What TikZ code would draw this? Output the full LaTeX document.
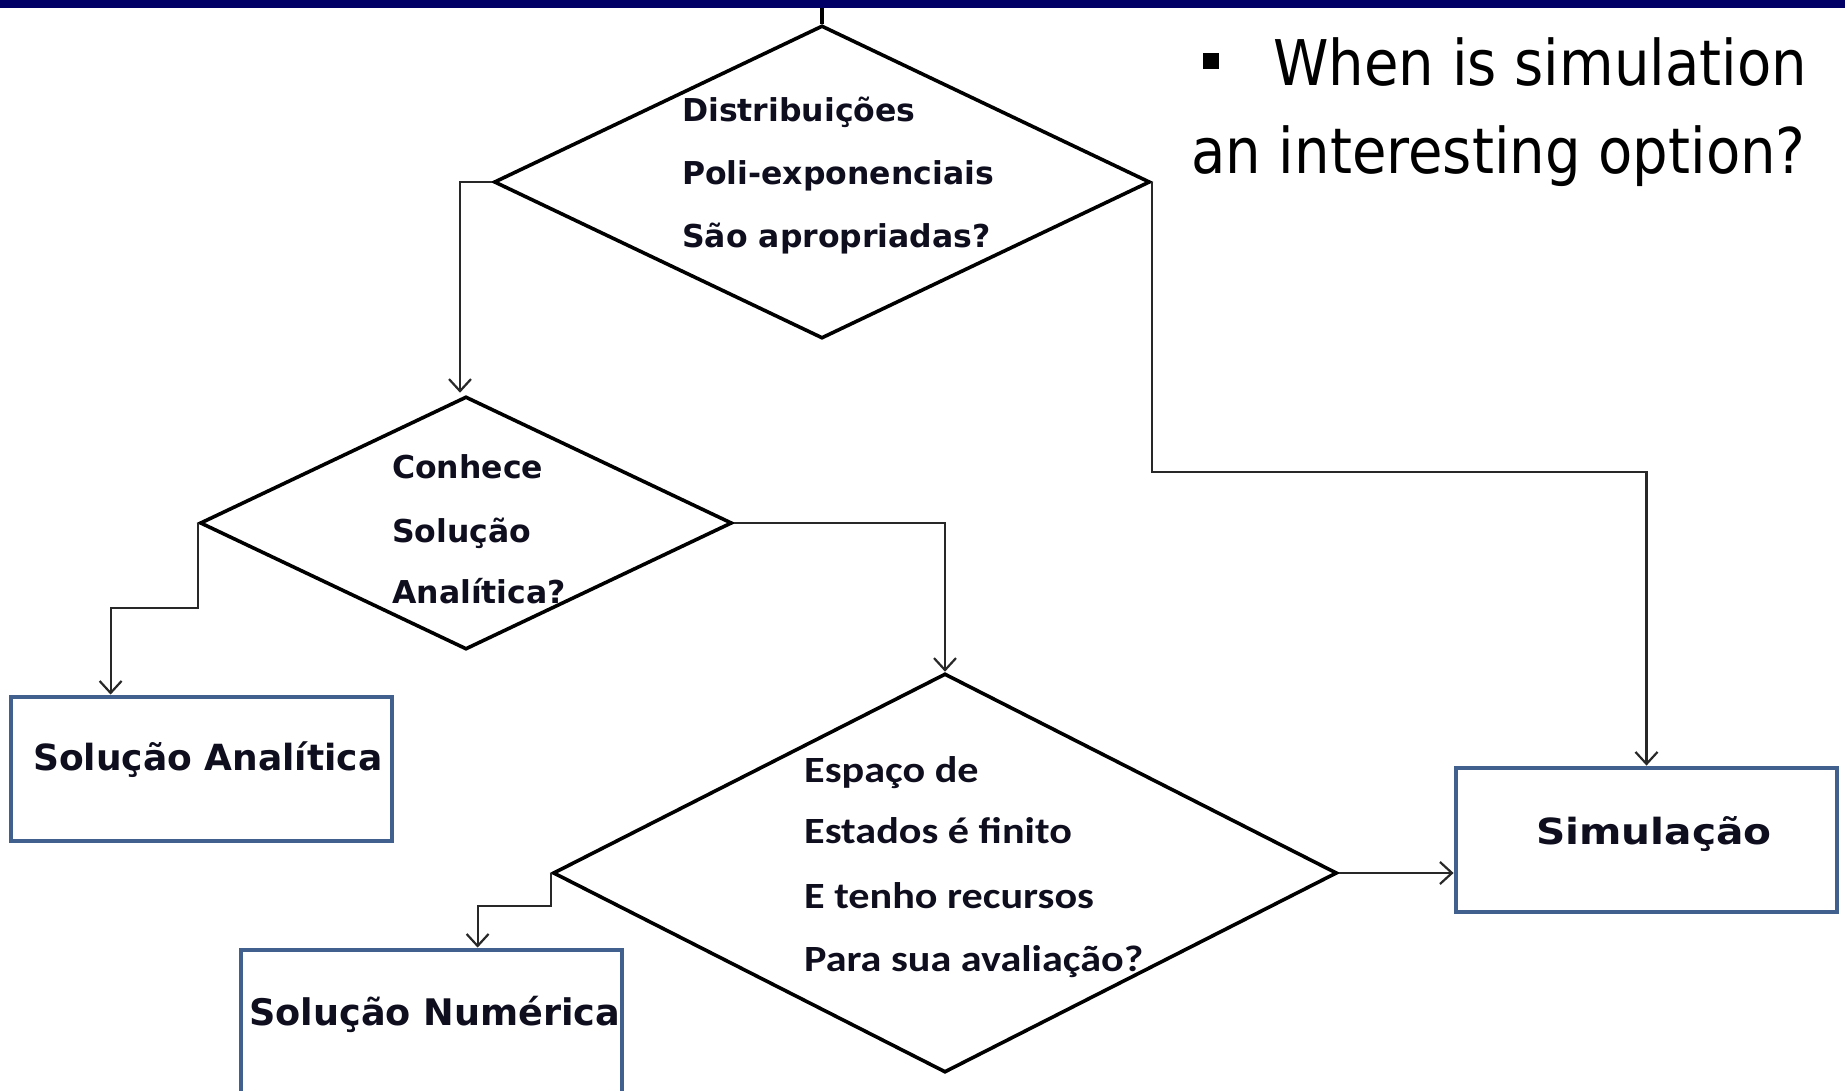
\documentclass[tikz,border=0pt]{standalone}
\usepackage{fontspec}
\usetikzlibrary{shapes.geometric,arrows.meta,calc}
\newfontfamily\qfont{DejaVu Sans}
\newfontfamily\calfont{Carlito}[FakeStretch=1.14]
\newfontfamily\titlefont{DejaVu Sans}[FakeStretch=0.89]
\newfontfamily\simfont{DejaVu Sans}[FakeStretch=1.13]
\definecolor{barnavy}{RGB}{0,0,102}
\definecolor{boxblue}{RGB}{66,96,142}
\definecolor{textink}{RGB}{14,14,30}
\definecolor{connink}{RGB}{40,40,40}
\tikzset{
  decision/.style={diamond, draw=black, line width=3.6pt, inner sep=0pt},
  outcome/.style={rectangle, draw=boxblue, line width=4.8pt, inner sep=0pt},
  qtext/.style={inner sep=0pt, anchor=base west, text=textink,
    font=\qfont\bfseries\fontsize{31.5}{37}\selectfont},
  ctext/.style={inner sep=0pt, anchor=base west, text=textink,
    font=\calfont\bfseries\fontsize{37}{44}\selectfont},
  btext/.style={inner sep=0pt, anchor=base west, text=textink,
    font=\qfont\bfseries\fontsize{36}{43}\selectfont},
  ttext/.style={inner sep=0pt, anchor=base west, text=black,
    font=\titlefont\fontsize{63}{75}\selectfont},
  conn/.style={draw=connink, line width=2.2pt,
    -{Straight Barb[length=12pt,width=22pt,line width=2.2pt]}}
}
\begin{document}
\begin{tikzpicture}[x=1pt,y=-1pt]
\useasboundingbox (0,0) rectangle (1845,1091);
\clip (0,0) rectangle (1845,1091);
\fill[white] (0,0) rectangle (1845,1091);

% header strip
\node[fill=barnavy, anchor=north west, inner sep=0pt, outer sep=0pt,
      minimum width=1845pt, minimum height=8pt] (bar) at (0,0) {};

% question
\node[fill=black, inner sep=0pt, minimum size=16pt] (bul) at (1211,61) {};
\node[ttext] (t1) at (1273,86) {When is simulation};
\node[ttext] (t2) at (1191,174) {an interesting option?};

% decisions
\node[decision, minimum width=656pt, minimum height=313pt] (d1) at (822,182) {};
\node[decision, minimum width=532pt, minimum height=253pt] (d2) at (466,523) {};
\node[decision, minimum width=784pt, minimum height=399pt] (d3) at (945,873) {};

\draw[line width=4.5pt] (d1.north) -- (d1.north |- bar.south);

\node[qtext] (d1a) at (682,122) {Distribuições};
\node[qtext] (d1b) at (682,185) {Poli-exponenciais};
\node[qtext] (d1c) at (682,248) {São apropriadas?};

\node[qtext] (d2a) at (392,478) {Conhece};
\node[qtext] (d2b) at (392,542) {Solução};
\node[qtext] (d2c) at (392,603) {Analítica?};

\node[ctext] (d3a) at (804,782) {Espaço de};
\node[ctext] (d3b) at (804,843) {Estados é finito};
\node[ctext] (d3c) at (804,908) {E tenho recursos};
\node[ctext] (d3d) at (804,971) {Para sua avaliação?};

% outcomes
\node[outcome, minimum width=381pt, minimum height=144pt] (sa) at (201.5,769) {};
\node[outcome, minimum width=381pt, minimum height=200pt] (sn) at (431.5,1050) {};
\node[outcome, minimum width=381pt, minimum height=144pt] (sim) at (1646.5,840) {};

\node[btext] (sat) at (33,770) {Solução Analítica};
\node[btext] (snt) at (249,1025) {\fontsize{36.6}{43}\selectfont Solução Numérica};
\node[btext] (simt) at (1536,844) {\simfont\bfseries Simulação};

% connectors
\draw[conn] (d1.west) -| ($(d2.north)+(-6,-2)$);
\draw[conn] (d1.east) |- ($(sim.north)+(0,-294)$) -- (sim.north);
\draw[conn] (d2.west) |- ($(sa.north west)+(102,-87)$) -- ($(sa.north west)+(102,0)$);
\draw[conn] (d2.east) -| (d3.north);
\draw[conn] (d3.west) |- ($(sn.north west)+(239,-42)$) -- ($(sn.north west)+(239,0)$);
\draw[conn] (d3.east) -- (d3.east -| sim.west);
\end{tikzpicture}
\end{document}
